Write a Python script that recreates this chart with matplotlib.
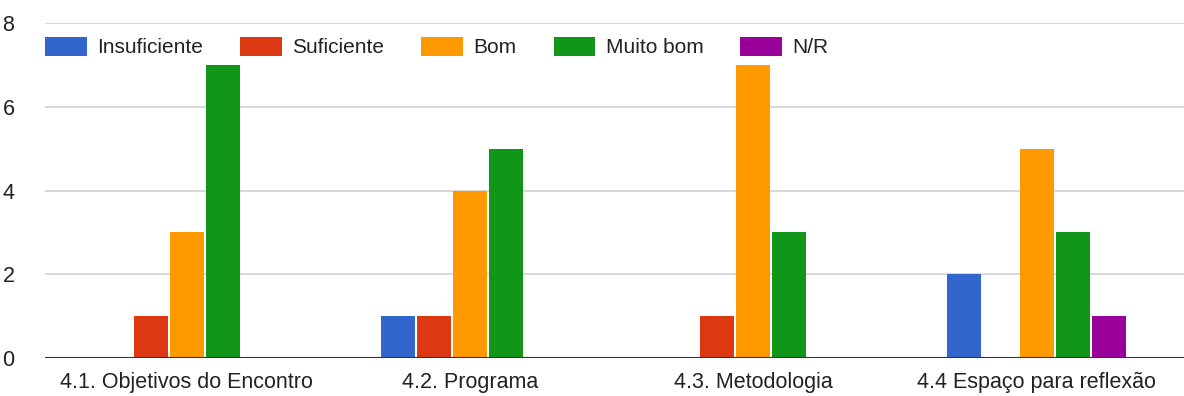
import numpy as np
import matplotlib.pyplot as plt

categories = ['4.1. Objetivos do Encontro', '4.2. Programa', '4.3. Metodologia', '4.4 Espaço para reflexão']
series = ['Insuficiente', 'Suficiente', 'Bom', 'Muito bom', 'N/R']
insuficiente = [0, 1, 0, 2]
suficiente = [1, 1, 1, 0]
bom = [3, 4, 7, 5]
muito_bom = [7, 5, 3, 3]
nr = [0, 0, 0, 1]
colors = ['#3366cc', '#dc3912', '#ff9900', '#109618', '#990099']
yticks = [0, 2, 4, 6, 8]

plt.rcParams['font.family'] = ['Liberation Sans', 'DejaVu Sans']

fig = plt.figure(figsize=(11.84, 3.96), dpi=100)
ax = fig.add_axes([45 / 1184, 38 / 396, 1139 / 1184, 335 / 396])

x = np.arange(len(categories))
slot = 0.1275
width = 0.12
for i, (name, vals) in enumerate(zip(series, [insuficiente, suficiente, bom, muito_bom, nr])):
    ax.bar(x + (i - 2) * slot, vals, width, color=colors[i], label=name, zorder=3)

# gridlines run on to the right edge, a bit past the last group
ax.set_xlim(-0.5, len(categories) - 0.48)
ax.set_ylim(0, 8)
ax.set_yticks(yticks)
ax.set_xticks(x)
ax.set_xticklabels(categories)
for s in ax.spines.values():
    s.set_visible(False)
ax.grid(axis='y', color='#d4d4d4', linewidth=1.3, zorder=0)
ax.axhline(0, color='#333333', linewidth=1.5, zorder=4)
ax.tick_params(axis='both', length=0, labelsize=15.5, labelcolor='#222222')
ax.tick_params(axis='y', pad=22)
ax.tick_params(axis='x', pad=10)

ax.legend(loc='upper left', bbox_to_anchor=(0, 1 - 14 / 335), ncol=5, frameon=False,
          fontsize=15, borderaxespad=0, borderpad=0, handlelength=2.0, handleheight=1.0,
          handletextpad=0.5, columnspacing=1.78, labelcolor='#222222')

plt.savefig('out.png', dpi=100)
